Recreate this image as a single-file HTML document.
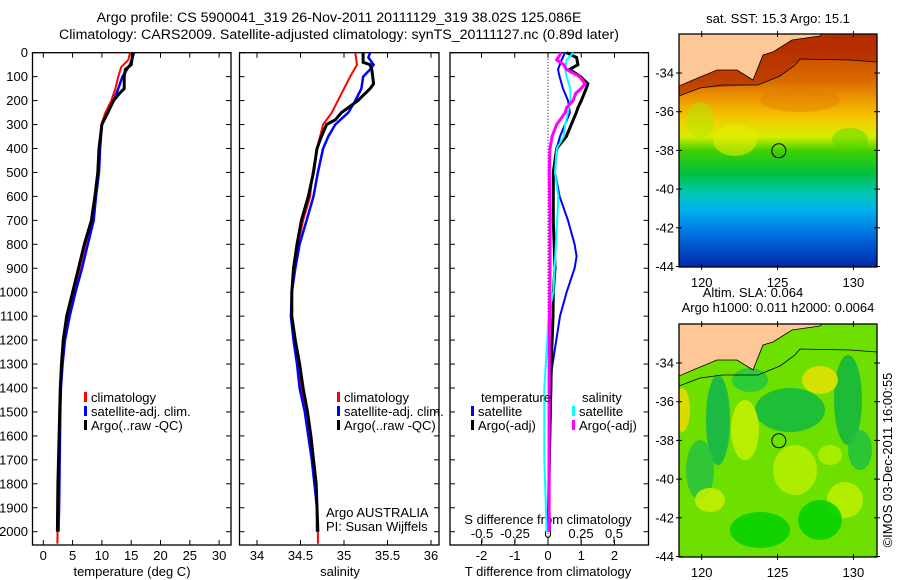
<!DOCTYPE html>
<html><head><meta charset="utf-8"><style>
body{margin:0;background:#fff;}
svg{display:block;font-family:"Liberation Sans",sans-serif;}
text{fill:#000;}
</style></head><body>
<svg id="chart" width="900" height="580" viewBox="0 0 900 580" xmlns="http://www.w3.org/2000/svg">
<defs>
<linearGradient id="sstGrad" x1="0" y1="0" x2="0" y2="1">
<stop offset="0" stop-color="#c43a00"/><stop offset="0.2" stop-color="#d86a00"/>
<stop offset="0.28" stop-color="#ee9a00"/><stop offset="0.36" stop-color="#f4c800"/>
<stop offset="0.44" stop-color="#d8ee00"/><stop offset="0.5" stop-color="#40d000"/>
<stop offset="0.6" stop-color="#00c040"/><stop offset="0.68" stop-color="#00c8b0"/>
<stop offset="0.76" stop-color="#00b0f0"/><stop offset="0.86" stop-color="#0070e0"/>
<stop offset="1" stop-color="#0028a8"/></linearGradient>
<clipPath id="clipTop"><rect x="679" y="34" width="198" height="233"/></clipPath>
<clipPath id="clipBot"><rect x="679" y="324" width="198" height="233"/></clipPath>
</defs>
<text x="339" y="22" font-size="14.2" text-anchor="middle">Argo profile: CS 5900041_319 26-Nov-2011 20111129_319 38.02S 125.086E</text>
<text x="339" y="39" font-size="14.2" text-anchor="middle">Climatology: CARS2009. Satellite-adjusted climatology: synTS_20111127.nc (0.89d later)</text>
<g id="p1"></g>
<g id="p2"></g>
<g id="p3"></g>
<g id="maps"></g>
</svg>
<script>
// ---- data ----
const depthTicks=[0,100,200,300,400,500,600,700,800,900,1000,1100,1200,1300,1400,1500,1600,1700,1800,1900,2000];
const tempTicks=[0,5,10,15,20,25,30];
const salTicks=[34,34.5,35,35.5,36];
const tdTicks=[-2,-1,0,1,2];
const sdTicks=[-0.5,-0.25,0,0.25,0.5];
const sdTickLabels=["-0.5","-0.25","0","0.25","0.5"];

const climTdep=[0,30,60,100,150,200,250,300,400,500,600,700,800,900,1000,1100,1200,1300,1400,1500,1700,1900,2050];
const climT=[14.8,14.5,13.3,12.8,12.3,11.6,10.6,9.9,9.6,9.3,8.9,8.3,7.2,6.2,5.2,4.2,3.5,3.2,3.0,2.85,2.7,2.5,2.4];
const satTdep=[0,50,100,150,200,250,300,400,500,600,700,800,900,1000,1100,1200,1300,1400,1500,1700,1900,2000];
const satT=[15.5,14.8,13.5,12.8,12.0,11.0,10.0,9.7,9.5,9.0,8.6,7.6,6.6,5.5,4.5,3.7,3.3,3.0,2.9,2.8,2.7,2.6];
const argoTdep=[0,50,70,100,150,170,200,250,300,400,500,600,700,800,900,1000,1100,1200,1300,1400,1500,1600,1800,2000];
const argoT=[15.3,15.0,14.0,13.8,13.8,13.0,12.0,11.0,10.0,9.5,9.3,8.8,8.2,7.0,6.0,5.0,4.0,3.4,3.1,2.9,2.8,2.7,2.5,2.4];

const climSdep=[0,50,100,200,250,300,400,500,600,700,800,900,1000,1100,1200,1300,1400,1500,1600,1700,1800,1900,2000,2050];
const climS=[35.13,35.15,35.07,34.93,34.86,34.76,34.69,34.64,34.61,34.53,34.47,34.42,34.40,34.39,34.42,34.46,34.51,34.55,34.59,34.63,34.67,34.69,34.70,34.70];
const satSdep=[0,20,50,70,100,150,200,250,300,350,400,500,600,700,800,900,1000,1100,1200,1300,1400,1500,1600,1700,1800,1900,2000];
const satS=[35.30,35.28,35.34,35.30,35.22,35.20,35.13,35.05,34.90,34.82,34.76,34.70,34.65,34.57,34.49,34.44,34.40,34.39,34.42,34.46,34.49,34.55,34.59,34.63,34.66,34.69,34.69];
const argoSdep=[0,40,50,70,100,130,150,200,250,280,300,350,400,500,600,700,800,900,1000,1100,1200,1300,1400,1500,1600,1700,1800,1900,2000];
const argoS=[35.22,35.22,35.30,35.32,35.33,35.34,35.30,35.16,34.97,34.90,34.80,34.74,34.69,34.65,34.59,34.51,34.46,34.42,34.40,34.40,34.44,34.49,34.53,34.58,34.62,34.65,34.68,34.69,34.70];

const tdDep=[0,30,70,100,150,200,250,300,350,400,500,600,700,800,850,900,1000,1100,1200,1325,1530,1830,2000];
const satTd=[0.51,0.41,0.30,0.35,0.45,0.60,0.66,0.51,0.36,0.26,0.21,0.35,0.60,0.80,0.86,0.80,0.56,0.36,0.25,0.11,0.08,0.03,0.06];
const argoTdDep=[0,20,50,70,100,130,150,200,230,250,300,350,400,450,500,700,900,1000,1100,1300,1600,2000];
const argoTd=[0.56,0.86,0.90,0.65,0.98,1.20,1.15,1.00,0.90,0.85,0.70,0.55,0.26,0.21,0.16,0.16,0.21,0.16,0.15,0.10,0.05,0.01];
const sdDep=[0,30,70,100,150,200,250,300,350,400,500,600,700,800,900,1000,1100,1200,1400,1700,2000];
const satSd=[0.19,0.14,0.13,0.14,0.17,0.17,0.15,0.13,0.12,0.066,0.053,0.078,0.07,0.06,0.05,0.04,0.003,-0.005,-0.028,-0.028,-0.01];
const argoSdDep=[0,30,50,70,100,130,150,170,200,230,250,300,350,400,500,700,900,1200,1600,2000];
const argoSd=[0.10,0.066,0.12,0.14,0.24,0.28,0.25,0.21,0.19,0.14,0.13,0.066,0.03,0.015,0.01,0.015,0.015,0.01,0.008,0.008];

// ---- helpers ----
const NS="http://www.w3.org/2000/svg";
const FS=13;
function mk(parent,tag,attrs,txt){const e=document.createElementNS(NS,tag);for(const k in attrs)e.setAttribute(k,attrs[k]);if(txt!==undefined)e.textContent=txt;parent.appendChild(e);return e;}
const TOP=52.7, BOT=545;
function yD(d){return TOP+0.2395*d;}
function xT(v){return 43.3+5.86*v;}
function xS(v){return 257+87*(v-34);}
function xTd(v){return 548+33.25*v;}
function xSd(v){return 548+132*v;}
function stepPath(xs,ds,fx){let p="";for(let i=0;i<xs.length;i++){const x=fx(xs[i]).toFixed(1),y=yD(ds[i]).toFixed(1);p+=(i?"L":"M")+x+" "+y;}return p;}

function frame(g,x0,x1,name){
  const r=mk(g,"rect",{x:x0,y:TOP,width:x1-x0,height:BOT-TOP,fill:"none",stroke:"#000","stroke-width":1.3});
  
  
  depthTicks.forEach(d=>{
    mk(g,"line",{x1:x0,x2:x0+5,y1:yD(d),y2:yD(d),stroke:"#000"});
    mk(g,"line",{x1:x1-5,x2:x1,y1:yD(d),y2:yD(d),stroke:"#000"});
  });
}
function series(g,xs,ds,fx,color,w,name){
  const p=mk(g,"path",{d:stepPath(xs,ds,fx),fill:"none",stroke:color,"stroke-width":w,"stroke-linejoin":"miter"});
  
  
}
function legendEntry(g,x,y,color,label,name){
  const e=mk(g,"g",{});
  
  
  mk(e,"rect",{x:x,y:y-10,width:3,height:10,fill:color});
  mk(e,"text",{x:x+7,y:y,"font-size":FS},label);
}

// ---- panel 1 temperature ----
const p1=document.getElementById('p1');
frame(p1,32.5,231,'temperature-frame');
depthTicks.forEach(d=>{const t=mk(p1,"text",{x:28,y:yD(d)+4.5,"font-size":FS,"text-anchor":"end"},String(d));});
tempTicks.forEach(v=>{mk(p1,"line",{x1:xT(v),x2:xT(v),y1:TOP,y2:TOP+5,stroke:"#000"});mk(p1,"line",{x1:xT(v),x2:xT(v),y1:BOT-5,y2:BOT,stroke:"#000"});const t=mk(p1,"text",{x:xT(v),y:560,"font-size":FS,"text-anchor":"middle"},String(v));});
mk(p1,"text",{x:132,y:576,"font-size":FS,"text-anchor":"middle",},"temperature (deg C)");
series(p1,climT,climTdep,xT,"#ff0000",2,'temp-climatology-line');
series(p1,satT,satTdep,xT,"#0000ff",2.5,'temp-satellite-line');
series(p1,argoT,argoTdep,xT,"#000000",3,'temp-argo-line');
legendEntry(p1,84,402,"#ff0000","climatology",'legend-climatology');
legendEntry(p1,84,416,"#0000ff","satellite-adj. clim.",'legend-satellite');
legendEntry(p1,84,430,"#000000","Argo(..raw -QC)",'legend-argo');

// ---- panel 2 salinity ----
const p2=document.getElementById('p2');
frame(p2,239.5,439,'salinity-frame');
salTicks.forEach(v=>{mk(p2,"line",{x1:xS(v),x2:xS(v),y1:TOP,y2:TOP+5,stroke:"#000"});mk(p2,"line",{x1:xS(v),x2:xS(v),y1:BOT-5,y2:BOT,stroke:"#000"});const t=mk(p2,"text",{x:xS(v),y:560,"font-size":FS,"text-anchor":"middle"},String(v));});
mk(p2,"text",{x:340,y:576,"font-size":FS,"text-anchor":"middle",},"salinity");
series(p2,climS,climSdep,xS,"#ff0000",2,'sal-climatology-line');
series(p2,satS,satSdep,xS,"#0000ff",2.5,'sal-satellite-line');
series(p2,argoS,argoSdep,xS,"#000000",3,'sal-argo-line');
legendEntry(p2,337,402,"#ff0000","climatology",'legend-climatology');
legendEntry(p2,337,416,"#0000ff","satellite-adj. clim.",'legend-satellite');
legendEntry(p2,337,430,"#000000","Argo(..raw -QC)",'legend-argo');
mk(p2,"text",{x:326,y:517,"font-size":FS,},"Argo AUSTRALIA");
mk(p2,"text",{x:326,y:531,"font-size":FS,},"PI: Susan Wijffels");

// ---- panel 3 differences ----
const p3=document.getElementById('p3');
frame(p3,450,648.5,'difference-frame');
mk(p3,"line",{x1:548,x2:548,y1:TOP,y2:BOT,stroke:"#000","stroke-dasharray":"1 2",});
tdTicks.forEach(v=>{mk(p3,"line",{x1:xTd(v),x2:xTd(v),y1:TOP,y2:TOP+5,stroke:"#000"});mk(p3,"line",{x1:xTd(v),x2:xTd(v),y1:BOT-5,y2:BOT,stroke:"#000"});const t=mk(p3,"text",{x:xTd(v),y:560,"font-size":FS,"text-anchor":"middle"},String(v));});
sdTicks.forEach((v,i)=>{mk(p3,"line",{x1:xSd(v),x2:xSd(v),y1:538,y2:543,stroke:"#000"});const t=mk(p3,"text",{x:xSd(v),y:538,"font-size":FS,"text-anchor":"middle"},sdTickLabels[i]);});
mk(p3,"text",{x:548,y:524,"font-size":FS,"text-anchor":"middle",},"S difference from climatology");
mk(p3,"text",{x:548,y:576,"font-size":FS,"text-anchor":"middle",},"T difference from climatology");
series(p3,satTd,tdDep,xTd,"#0000ff",2,'tdiff-satellite-line');
series(p3,argoTd,argoTdDep,xTd,"#000000",3,'tdiff-argo-line');
series(p3,satSd,sdDep,xSd,"#00ffff",2,'sdiff-satellite-line');
series(p3,argoSd,argoSdDep,xSd,"#ff00ff",3,'sdiff-argo-line');
mk(p3,"text",{x:481,y:402,"font-size":FS,},"temperature");
mk(p3,"text",{x:582,y:402,"font-size":FS,},"salinity");
legendEntry(p3,471,416,"#0000ff","satellite",'legend-tdiff-satellite');
legendEntry(p3,471,430,"#000000","Argo(-adj)",'legend-tdiff-argo');
legendEntry(p3,572,416,"#00ffff","satellite",'legend-sdiff-satellite');
legendEntry(p3,572,430,"#ff00ff","Argo(-adj)",'legend-sdiff-argo');

// ---- maps ----
const mp=document.getElementById('maps');
const latTicks=[-34,-36,-38,-40,-42,-44];
const lonTicks=[120,125,130];
function mapAxes(y0,name){
  const latY=l=>y0+39+(-34-l)*19.35;
  const lonX=l=>701.7+(l-120)*15.17;
  const r=mk(mp,"rect",{x:679,y:y0,width:198,height:233,fill:"none",stroke:"#000","stroke-width":1.3});
  
  
  latTicks.forEach(l=>{mk(mp,"line",{x1:676,x2:682,y1:latY(l),y2:latY(l),stroke:"#000"});mk(mp,"line",{x1:874,x2:880,y1:latY(l),y2:latY(l),stroke:"#000"});const t=mk(mp,"text",{x:674,y:latY(l)+4.5,"font-size":FS,"text-anchor":"end"},String(l));});
  lonTicks.forEach(l=>{mk(mp,"line",{x1:lonX(l),x2:lonX(l),y1:y0-3,y2:y0+3,stroke:"#000"});mk(mp,"line",{x1:lonX(l),x2:lonX(l),y1:y0+230,y2:y0+236,stroke:"#000"});const t=mk(mp,"text",{x:lonX(l),y:y0+253,"font-size":FS,"text-anchor":"middle"},String(l));});
  const c=mk(mp,"circle",{cx:lonX(125.086),cy:latY(-38.02),r:7,fill:"none",stroke:"#000"});
  
  
}
function coast(y0,g){
  const o=y0-34;
  const land=`M679 ${34+o} L822 ${34+o} L820 ${36+o} L792 ${40+o} L773 ${52+o} L763 ${55+o} L753 ${80+o} L737 ${70+o} L717 ${70+o} L693 ${80+o} L679 ${86+o} Z`;
  mk(g,"path",{d:land,fill:"#fdc896",stroke:"#000","stroke-width":0.8,});
  mk(g,"path",{d:`M679 ${96+o} L700 ${88+o} L722 ${85+o} L758 ${85+o} L780 ${76+o} L795 ${65+o} L800 ${59+o} L850 ${60+o} L877 ${62+o}`,fill:"none",stroke:"#000","stroke-width":0.8,});
}
// top SST map
const gt=mk(mp,"g",{"clip-path":"url(#clipTop)",});
mk(gt,"rect",{x:679,y:34,width:198,height:233,fill:"url(#sstGrad)"});
mk(gt,"path",{d:"M679 86 L693 80 L717 70 L737 70 L753 80 L763 55 L773 52 L792 40 L820 36 L877 34 L877 62 L850 60 L800 59 L780 76 L758 85 L700 88 L679 96Z",fill:"#a81e00",opacity:0.55});
mk(gt,"ellipse",{cx:735,cy:140,rx:22,ry:16,fill:"#e8ec00",opacity:0.6});
mk(gt,"ellipse",{cx:700,cy:120,rx:14,ry:18,fill:"#b0e800",opacity:0.5});
mk(gt,"ellipse",{cx:850,cy:140,rx:18,ry:12,fill:"#50d800",opacity:0.5});
mk(gt,"ellipse",{cx:800,cy:100,rx:40,ry:12,fill:"#e07800",opacity:0.4});
coast(34,gt);
mapAxes(34,'sst-map-frame');
mk(mp,"text",{x:778,y:23,"font-size":FS,"text-anchor":"middle",},"sat. SST: 15.3 Argo: 15.1");
// bottom SLA map
const gb=mk(mp,"g",{"clip-path":"url(#clipBot)",});
mk(gb,"rect",{x:679,y:324,width:198,height:233,fill:"#6ee000"});
const blobs=[[718,420,12,45,"#10b450"],[700,470,14,30,"#28c040"],[790,410,35,22,"#10b840"],[848,400,14,45,"#10b440"],[820,380,18,14,"#e8e000"],[745,430,14,30,"#c8f000"],[682,410,8,22,"#f0d800"],[795,470,22,25,"#b8f000"],[845,500,18,18,"#c0f000"],[710,500,15,12,"#c8f000"],[830,455,12,10,"#b0f000"],[760,530,30,18,"#00d000"],[820,520,22,20,"#00d000"],[750,380,18,12,"#20c840"],[860,450,12,20,"#20c040"]];
blobs.forEach(b=>{mk(gb,"ellipse",{cx:b[0],cy:b[1],rx:b[2],ry:b[3],fill:b[4],opacity:0.85});});
coast(324,gb);
mapAxes(324,'sla-map-frame');
mk(mp,"text",{x:753,y:297,"font-size":FS,"text-anchor":"middle",},"Altim. SLA: 0.064");
mk(mp,"text",{x:778,y:312,"font-size":FS,"text-anchor":"middle",},"Argo h1000: 0.011 h2000: 0.0064");
mk(mp,"text",{x:0,y:0,"font-size":FS,"text-anchor":"middle",transform:"translate(892,460) rotate(-90)",},"©IMOS 03-Dec-2011 16:00:55");
</script>
</body></html>
